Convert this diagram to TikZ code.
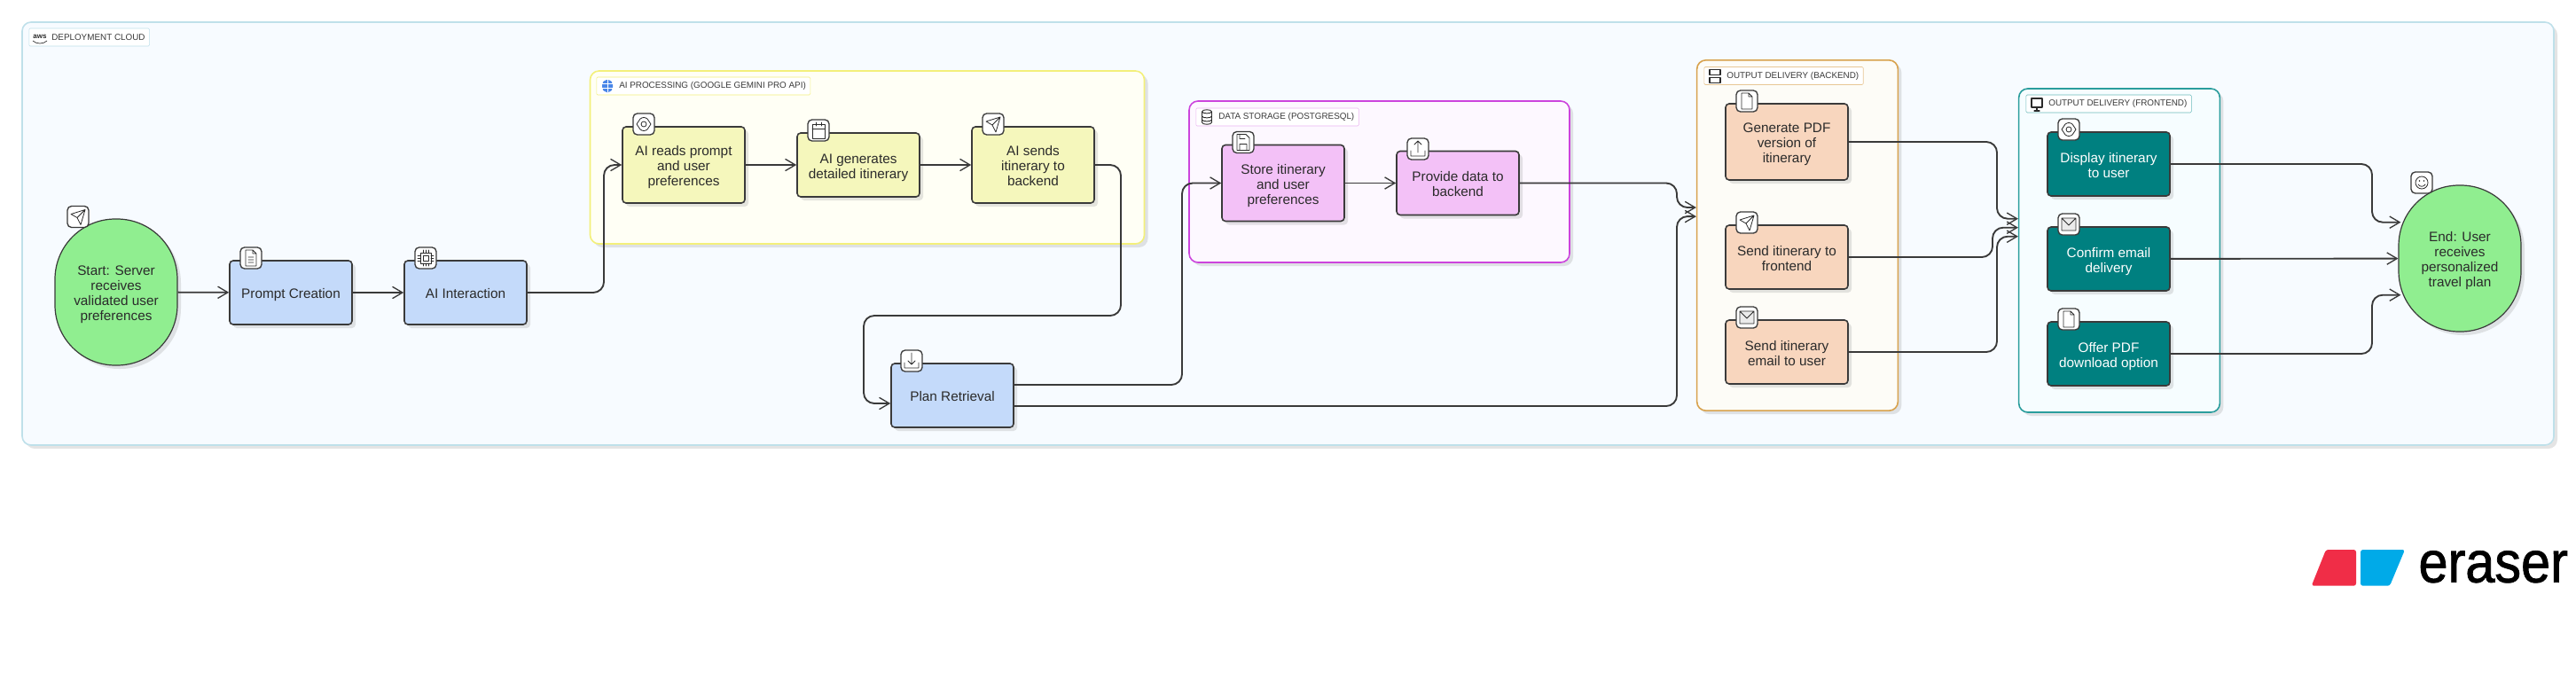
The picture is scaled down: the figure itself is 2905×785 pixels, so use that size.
\documentclass[tikz,border=0pt]{standalone}
\usepackage{fontspec}
\setmainfont{Liberation Sans}
\newfontfamily\logofont[FakeBold=1.2,FakeStretch=0.9]{Liberation Sans}
\usetikzlibrary{arrows.meta,shadows}

\definecolor{inkline}{HTML}{3A3A3A}
\definecolor{inktext}{HTML}{2B2B2B}
\definecolor{cloudline}{HTML}{BFE0EA}
\definecolor{cloudfill}{HTML}{F7FBFF}
\definecolor{ailine}{HTML}{F3F07A}
\definecolor{aifill}{HTML}{FFFFF5}
\definecolor{dataline}{HTML}{CC44DD}
\definecolor{datafill}{HTML}{FDF8FF}
\definecolor{backline}{HTML}{D8A24E}
\definecolor{backfill}{HTML}{FDFCF7}
\definecolor{frontline}{HTML}{2A9D9D}
\definecolor{frontfill}{HTML}{F6FDFF}
\definecolor{startgreen}{HTML}{90EE90}
\definecolor{stepblue}{HTML}{C4DAFA}
\definecolor{stepyellow}{HTML}{F5F7BC}
\definecolor{steppink}{HTML}{F3C1F7}
\definecolor{steppeach}{HTML}{F8D6BE}
\definecolor{stepteal}{HTML}{008080}
\definecolor{geminiblue}{HTML}{4A86E8}

\tikzset{every picture/.style={line width=0.75pt},
  softshadow/.style={drop shadow={shadow xshift=3pt,shadow yshift=-3pt,fill=black!35,opacity=.3}},
  groupbox/.style={rectangle,rounded corners=7.5pt,line width=1.2pt,softshadow,inner sep=0pt},
  grouptag/.style={rectangle,rounded corners=1pt,line width=0.4pt,fill=white,anchor=west,inner xsep=3.75pt,inner ysep=0pt,
    minimum height=15pt,text=inkline,font={\fontsize{7.4}{9}\selectfont}},
  stepbox/.style={rectangle,rounded corners=3pt,draw=inkline,line width=1.2pt,softshadow,inner sep=0pt,
    minimum width=103.5pt,minimum height=54pt,align=center,text=inktext,font={\fontsize{11.5}{12.75}\selectfont},
    execute at begin node={\rule{0pt}{12.7pt}},execute at end node={\rule[-2.45pt]{0pt}{2.45pt}}},
  twoline/.style={execute at begin node={\rule{0pt}{25.45pt}}},
  tallbox/.style={stepbox,minimum height=64.5pt,execute at begin node={\rule{0pt}{38.2pt}}},
  oval/.style={stepbox,fill=startgreen,rounded corners=51pt,minimum height=123.75pt,line width=0.9pt,execute at begin node={\rule{0pt}{50.95pt}}},
  badge/.style={rectangle,rounded corners=3.5pt,draw=inkline,line width=1pt,fill=white,minimum width=18pt,minimum height=18pt,inner sep=0pt},
  flow/.style={draw=inkline,line width=1.4pt,rounded corners=9pt,-{Straight Barb[length=8.5pt,width=10pt,line width=1pt]}},
  glyph/.style={draw=inktext,line width=0.6pt,line join=round,line cap=round},
  pics/sendicon/.style={code={\draw[glyph] (8,-8) -- (-8,-3) -- (-1,1) -- (3,9) -- cycle (8,-8) -- (-1,1);}},
  pics/docicon/.style={code={\draw[glyph] (-6,-9) -- (2,-9) -- (6,-5) -- (6,9) -- (-6,9) -- cycle (2,-9) -- (2,-5) -- (6,-5) (-3,-1) -- (3,-1) (-3,2) -- (3,2) (-3,5) -- (3,5);}},
  pics/fileicon/.style={code={\draw[glyph] (-6,-9) -- (2,-9) -- (6,-5) -- (6,9) -- (-6,9) -- cycle (2,-9) -- (2,-5) -- (6,-5);}},
  pics/chipicon/.style={code={\draw[glyph] (-6,-6) rectangle (6,6) (-3,-3) rectangle (3,3)
    (-3,-6) -- (-3,-9) (0,-6) -- (0,-9) (3,-6) -- (3,-9) (-3,6) -- (-3,9) (0,6) -- (0,9) (3,6) -- (3,9)
    (-6,-3) -- (-9,-3) (-6,0) -- (-9,0) (-6,3) -- (-9,3) (6,-3) -- (9,-3) (6,0) -- (9,0) (6,3) -- (9,3);}},
  pics/eyeicon/.style={code={\draw[glyph] (-8,0) -- (-4,-6) .. controls (-1,-8) and (1,-8) .. (4,-6) -- (8,0) -- (4,6) .. controls (1,8) and (-1,8) .. (-4,6) -- cycle (0,0) circle [radius=3];}},
  pics/calicon/.style={code={\draw[glyph] (-7,-7) rectangle (7,9) (-7,-2) -- (7,-2) (-3,-9) -- (-3,-5) (3,-9) -- (3,-5);}},
  pics/saveicon/.style={code={\draw[glyph] (-7,-9) -- (3,-9) -- (7,-5) -- (7,9) -- (-7,9) -- cycle (-4,9) -- (-4,2) -- (4,2) -- (4,9) (-4,-9) -- (-4,-4) -- (2,-4);}},
  pics/upicon/.style={code={\draw[glyph] (-8,2) -- (-8,8) -- (8,8) -- (8,2) (0,4) -- (0,-9) (-4,-5) -- (0,-9) -- (4,-5);}},
  pics/downicon/.style={code={\draw[glyph] (-8,2) -- (-8,8) -- (8,8) -- (8,2) (0,-9) -- (0,4) (-4,0) -- (0,4) -- (4,0);}},
  pics/mailicon/.style={code={\draw[glyph,fill=black!8] (-8,-7) rectangle (8,7) (-8,-7) -- (0,1) -- (8,-7);}},
  pics/smileicon/.style={code={\draw[glyph] (0,0) circle [radius=7] (-4,2) .. controls (-2,5) and (2,5) .. (4,2);
    \fill[inktext] (-2.5,-2) circle [radius=0.8] (2.5,-2) circle [radius=0.8];}},
  pics/servericon/.style={code={\draw[glyph,line width=0.8pt] (-6,-7) rectangle (6,-1) (-6,2) rectangle (6,8);}},
  pics/monitoricon/.style={code={\draw[glyph,line width=0.8pt] (-6,-6) rectangle (6,4) (0,4) -- (0,8) (-3,8) -- (3,8);}},
  pics/dbicon/.style={code={\draw[glyph,line width=0.7pt] (-5.5,-6) .. controls (-5.5,-9) and (5.5,-9) .. (5.5,-6) -- (5.5,6) .. controls (5.5,9) and (-5.5,9) .. (-5.5,6) -- cycle
    (-5.5,-6) .. controls (-5.5,-3.5) and (5.5,-3.5) .. (5.5,-6) (-5.5,-1) .. controls (-5.5,1.5) and (5.5,1.5) .. (5.5,-1) (-5.5,3) .. controls (-5.5,5.5) and (5.5,5.5) .. (5.5,3);}},
  pics/geminiicon/.style={code={\fill[rounded corners=1.5pt,fill=geminiblue] (-3,-7) -- (3,-7) -- (6,-3) -- (6,3) -- (3,7) -- (-3,7) -- (-6,3) -- (-6,-3) -- cycle;
    \draw[white,line width=0.5pt] (-6,-2.5) -- (6,-2.5) (-6,2.5) -- (6,2.5) (0,-7) -- (0,7);}}
}

\begin{document}
\begin{tikzpicture}[x=0.75pt,y=0.75pt,yscale=-1,xscale=1,every pic/.style={yscale=-1}]
\useasboundingbox (0,0) rectangle (2905,785);

% Group boxes
\node (cloud) [groupbox,draw=cloudline,fill=cloudfill,minimum width=2141.25pt,minimum height=357.75pt] at (1452.5,263.5) {};
\node (aigroup) [groupbox,draw=ailine,fill=aifill,minimum width=468.75pt,minimum height=146.25pt] at (978,177.5) {};
\node (datagroup) [groupbox,draw=dataline,fill=datafill,minimum width=321.75pt,minimum height=136.5pt] at (1555.5,205) {};
\node (backend) [groupbox,draw=backline,fill=backfill,minimum width=170pt,minimum height=296.5pt] at (2027,265.5) {};
\node (frontend) [groupbox,draw=frontline,fill=frontfill,minimum width=170pt,minimum height=273.75pt] at (2390,282.5) {};

% Group tags
\node (cloudtag) [grouptag,draw=cloudline] at (32.5,42) {\hspace{15.4pt}DEPLOYMENT CLOUD};
\node (aitag) [grouptag,draw=ailine] at (672.5,97) {\hspace{15.4pt}AI PROCESSING (GOOGLE GEMINI PRO API)};
\node (datatag) [grouptag,draw=dataline!40] at (1348.5,132) {\hspace{15.4pt}DATA STORAGE (POSTGRESQL)};
\node (backtag) [grouptag,draw=backline!60] at (1921.5,85.5) {\hspace{15.4pt}OUTPUT DELIVERY (BACKEND)};
\node (fronttag) [grouptag,draw=frontline!70] at (2284.5,117) {\hspace{15.4pt}OUTPUT DELIVERY (FRONTEND)};
\node (awsmark) [inner sep=0pt,text=inktext,font={\fontsize{6}{6}\bfseries\selectfont}] at (45,41) {aws};
\draw[inktext,line width=0.5pt] (37,46) .. controls (41,50) and (49,50) .. (53,46);
\pic at (685,97) {geminiicon};
\pic at (1361,132) {dbicon};
\pic at (1934,85.5) {servericon};
\pic at (2297,117) {monitoricon};

% Steps
\node (start) [oval] at (131,329.5) {Start: Server\\receives\\validated user\\preferences};
\node (prompt) [stepbox,fill=stepblue] at (328,330) {Prompt Creation};
\node (aicall) [stepbox,fill=stepblue] at (525,330) {AI Interaction};
\node (reads) [tallbox,fill=stepyellow] at (771,186) {AI reads prompt\\and user\\preferences};
\node (generates) [stepbox,twoline,fill=stepyellow] at (968,186) {AI generates\\detailed itinerary};
\node (sends) [tallbox,fill=stepyellow] at (1165,186) {AI sends\\itinerary to\\backend};
\node (plan) [stepbox,fill=stepblue] at (1074,446) {Plan Retrieval};
\node (store) [tallbox,fill=steppink] at (1447,206.5) {Store itinerary\\and user\\preferences};
\node (provide) [stepbox,twoline,fill=steppink] at (1644,206.5) {Provide data to\\backend};
\node (pdf) [tallbox,fill=steppeach] at (2015,160) {Generate PDF\\version of\\itinerary};
\node (tofront) [stepbox,twoline,fill=steppeach] at (2015,290) {Send itinerary to\\frontend};
\node (tomail) [stepbox,twoline,fill=steppeach] at (2015,397) {Send itinerary\\email to user};
\node (display) [stepbox,twoline,fill=stepteal,text=white] at (2378,185) {Display itinerary\\to user};
\node (confirm) [stepbox,twoline,fill=stepteal,text=white] at (2378,292) {Confirm email\\delivery};
\node (offer) [stepbox,twoline,fill=stepteal,text=white] at (2378,399) {Offer PDF\\download option};
\node (finish) [oval] at (2774,291.5) {End: User\\receives\\personalized\\travel plan};

% Badges
\node (startbadge) [badge] at (88,244.5) {}; \pic at (startbadge) {sendicon};
\node (promptbadge) [badge] at (283,291) {}; \pic at (promptbadge) {docicon};
\node (aicallbadge) [badge] at (480,291) {}; \pic at (aicallbadge) {chipicon};
\node (readsbadge) [badge] at (726,140) {}; \pic at (readsbadge) {eyeicon};
\node (generatesbadge) [badge] at (923,147) {}; \pic at (generatesbadge) {calicon};
\node (sendsbadge) [badge] at (1120,140) {}; \pic at (sendsbadge) {sendicon};
\node (planbadge) [badge] at (1028,407) {}; \pic at (planbadge) {downicon};
\node (storebadge) [badge] at (1402,160.5) {}; \pic at (storebadge) {saveicon};
\node (providebadge) [badge] at (1599,168) {}; \pic at (providebadge) {upicon};
\node (pdfbadge) [badge] at (1970,114) {}; \pic at (pdfbadge) {fileicon};
\node (tofrontbadge) [badge] at (1970,251) {}; \pic at (tofrontbadge) {sendicon};
\node (tomailbadge) [badge] at (1970,358) {}; \pic at (tomailbadge) {mailicon};
\node (displaybadge) [badge] at (2333,146) {}; \pic at (displaybadge) {eyeicon};
\node (confirmbadge) [badge] at (2333,253) {}; \pic at (confirmbadge) {mailicon};
\node (offerbadge) [badge] at (2333,360) {}; \pic at (offerbadge) {fileicon};
\node (finishbadge) [badge] at (2731,206) {}; \pic at (finishbadge) {smileicon};

% Connectors
\draw[flow] (start) -- (prompt);
\draw[flow] (prompt) -- (aicall);
\draw[flow] (aicall.east) -- (681,330) -- (681,186) -- (reads.west);
\draw[flow] (reads) -- (generates);
\draw[flow] (generates) -- (sends);
\draw[flow] (sends.east) -- (1264,186) -- (1264,356) -- (974,356) -- (974,455) -- ([yshift=6.75pt]plan.west);
\draw[flow] ([yshift=-9pt]plan.east) -- (1333,434) -- (1333,206.5) -- (store.west);
\draw[flow] (store) -- (provide);
\draw[flow] (provide.east) -- (1891,206.5) -- (1891,234) -- ([yshift=-23.6pt]backend.west);
\draw[flow] ([yshift=9pt]plan.east) -- (1891,458) -- (1891,244) -- ([yshift=-16pt]backend.west);
\draw[flow] (pdf.east) -- (2252,160) -- (2252,246.7) -- ([yshift=-26.85pt]frontend.west);
\draw[flow] (tofront.east) -- (2247,290) -- (2247,256.7) -- ([yshift=-19.35pt]frontend.west);
\draw[flow] (tomail.east) -- (2252,397) -- (2252,266.7) -- ([yshift=-11.85pt]frontend.west);
\draw[flow] (display.east) -- (2675,185) -- (2675,250.7) -- ([xshift=2.25pt,yshift=-30.6pt]finish.west);
\draw[flow] (confirm) -- (finish);
\draw[flow] (offer.east) -- (2675,399) -- (2675,332.7) -- ([xshift=2.25pt,yshift=30.9pt]finish.west);

% Eraser mark
\fill[color={rgb, 255:red, 240; green, 45; blue, 71 },rounded corners=2pt] (2623,620) -- (2657,620) -- (2657,660.7) -- (2606.7,660.7) -- cycle;
\fill[color={rgb, 255:red, 0; green, 170; blue, 232 },rounded corners=2pt] (2662,620) -- (2712,620) -- (2695,660.7) -- (2662,660.7) -- cycle;
\node (eraserword) [anchor=base west,inner sep=0pt,text=black,font={\logofont\fontsize{49.5}{50}\selectfont}] at (2727,656.7) {eraser};

\end{tikzpicture}
\end{document}
